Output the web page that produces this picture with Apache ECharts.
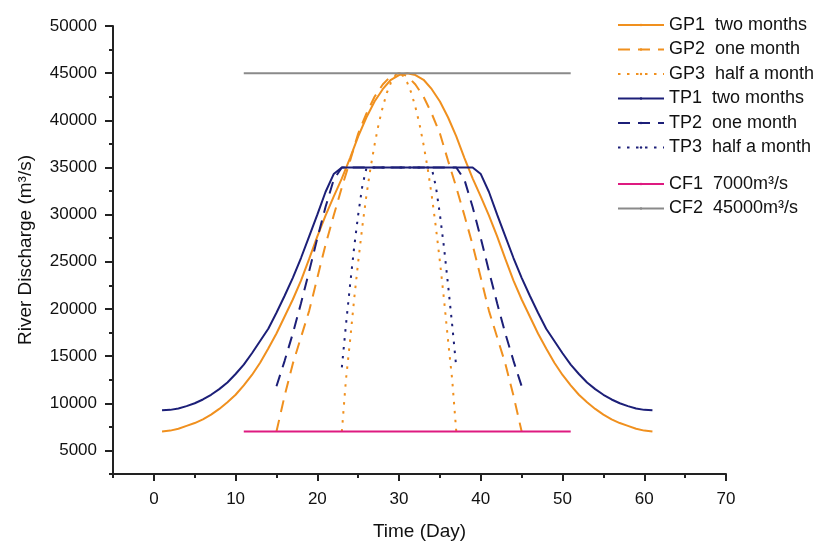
<!DOCTYPE html>
<html>
<head>
<meta charset="utf-8">
<script src="https://cdn.jsdelivr.net/npm/echarts@6/dist/echarts.min.js"></script>
<style>
html,body{margin:0;padding:0;background:#fff;}
#chart{width:831px;height:550px;}
</style>
</head>
<body>
<div id="chart"></div>
<script>
// ---- data ----
const days1 = [1,2,3,4,5,6,7,8,9,10,11,12,13,14,15,16,17,18,19,20,21,22,23,24,25,26,27,28,29,30,31,32,33,34,35,36,37,38,39,40,41,42,43,44,45,46,47,48,49,50,51,52,53,54,55,56,57,58,59,60,61];
const gp1 = [7000,7100,7300,7600,7900,8300,8800,9400,10100,10900,11900,13000,14300,15800,17400,19200,21000,23000,25300,27700,29900,31900,33850,36000,38300,40300,42000,43300,44300,44800,45000,
             44800,44300,43300,42000,40300,38300,36000,33850,31900,29900,27700,25300,23000,21000,19200,17400,15800,14300,13000,11900,10900,10100,9400,8800,8300,7900,7600,7300,7100,7000];
const tp1 = [9250,9300,9450,9700,10000,10400,10900,11500,12200,13100,14100,15300,16600,17900,19600,21400,23300,25400,27700,30000,32400,34300,
             35000,35000,35000,35000,35000,35000,35000,35000,35000,35000,35000,35000,35000,35000,35000,35000,35000,
             34300,32400,30000,27700,25400,23300,21400,19600,17900,16600,15300,14100,13100,12200,11500,10900,10400,10000,9700,9450,9300,9250];

const days2 = [15,16,17,18,19,20,21,22,23,24,25,26,27,28,29,30,31,32,33,34,35,36,37,38,39,40,41,42,43,44,45];
const gp2 = [7000,10800,14200,17000,19800,23300,26800,29900,32900,35700,38600,40700,42500,43800,44700,45000,44700,43800,42500,40700,38600,35700,32900,29900,26800,23300,19800,17000,14200,10800,7000];
const tp2 = [11800,14500,17400,20600,24000,27500,30800,33700,35000,35000,35000,35000,35000,35000,35000,35000,35000,35000,35000,35000,35000,35000,35000,33700,30800,27500,24000,20600,17400,14500,11800];

const days3 = [23,23.5,24,24.5,25,25.5,26,26.5,27,27.5,28,28.5,29,29.5,30,30.5,31,31.5,32,32.5,33,33.5,34,34.5,35,35.5,36,36.5,37];
const gp3 = [7000,12500,16600,21000,25000,28700,32000,34900,37400,39600,41400,42900,44000,44700,45000,44700,44000,42900,41400,39600,37400,34900,32000,28700,25000,21000,16600,12500,7000];
const tp3 = [13800,18300,22500,26500,30000,33000,34900,35000,35000,35000,35000,35000,35000,35000,35000,35000,35000,35000,35000,35000,35000,35000,34900,33000,30000,26500,22500,18300,13800];

const cfDays = [11,51];
const cf1 = [7000,7000];
const cf2 = [45000,45000];

const xTicks = [0,10,20,30,40,50,60,70];
const xMinorTicks = [-5,5,15,25,35,45,55,65];
const yTicks = [5000,10000,15000,20000,25000,30000,35000,40000,45000,50000];
const yMinorTicks = [2500,7500,12500,17500,22500,27500,32500,37500,42500,47500];

const names = ['GP1  two months','GP2  one month','GP3  half a month','TP1  two months','TP2  one month','TP3  half a month','CF1  7000m³/s','CF2  45000m³/s'];

// ---- chart ----
const ORANGE = '#F0901E', NAVY = '#1C1F78', MAGENTA = '#DE1A80', GREY = '#8a8a8a';
const FONT = '"Liberation Sans", Arial, sans-serif';
const AX = '#222';

function zip(xs, ys){ return xs.map((x,i)=>[x, ys[i]]); }
function line(name, xs, ys, color, type){
  return {
    name, type:'line', data: zip(xs, ys),
    symbol:'circle', symbolSize:3, showSymbol:false, smooth:false,
    lineStyle:{color, width:2, type},
    itemStyle:{color},
    emphasis:{disabled:true}, animation:false
  };
}
const DASH = [12,8], DOT = [2.5,6.5];
const plain = v => String(v);

const chart = echarts.init(document.getElementById('chart'), null, {renderer:'canvas'});
const legendText = {fontFamily:FONT, fontSize:18, color:'#111', lineHeight:20};
const legendCommon = {orient:'vertical', left:617, padding:0, itemWidth:46, itemHeight:3, itemGap:4.5, textStyle:legendText, selectedMode:false};
chart.setOption({
  animation:false,
  backgroundColor:'#fff',
  grid:{left:113, right:105, top:26, bottom:76, containLabel:false},
  legend:[
    Object.assign({data:names.slice(0,6), top:15}, legendCommon),
    Object.assign({data:names.slice(6), top:174}, legendCommon)
  ],
  xAxis:[
    {type:'value', min:-5, max:70, position:'bottom',
     name:'Time (Day)', nameLocation:'middle', nameGap:48,
     nameTextStyle:{fontFamily:FONT, fontSize:19, color:'#111'},
     axisLine:{show:true, onZero:false, lineStyle:{color:AX, width:2}},
     axisTick:{show:true, customValues:xTicks, length:7, lineStyle:{color:AX, width:2}},
     axisLabel:{show:true, customValues:xTicks, formatter:plain, margin:17, fontFamily:FONT, fontSize:17, color:'#111'},
     splitLine:{show:false}},
    {type:'value', min:-5, max:70, position:'bottom',
     axisLine:{show:false, onZero:false},
     axisTick:{show:true, customValues:xMinorTicks, length:4, lineStyle:{color:AX, width:2}},
     axisLabel:{show:false}, splitLine:{show:false}}
  ],
  yAxis:[
    {type:'value', min:2500, max:50000, position:'left',
     name:'River Discharge (m³/s)', nameLocation:'middle', nameGap:78, nameRotate:90,
     nameTextStyle:{fontFamily:FONT, fontSize:19, color:'#111'},
     axisLine:{show:true, onZero:false, lineStyle:{color:AX, width:2}},
     axisTick:{show:true, customValues:yTicks, length:8, lineStyle:{color:AX, width:2}},
     axisLabel:{show:true, customValues:yTicks, formatter:plain, margin:16, fontFamily:FONT, fontSize:17, color:'#111'},
     splitLine:{show:false}},
    {type:'value', min:2500, max:50000, position:'left',
     axisLine:{show:false, onZero:false},
     axisTick:{show:true, customValues:yMinorTicks, length:4, lineStyle:{color:AX, width:2}},
     axisLabel:{show:false}, splitLine:{show:false}}
  ],
  series:[
    line(names[0], days1, gp1, ORANGE, 'solid'),
    line(names[1], days2, gp2, ORANGE, DASH),
    line(names[2], days3, gp3, ORANGE, DOT),
    line(names[3], days1, tp1, NAVY, 'solid'),
    line(names[4], days2, tp2, NAVY, DASH),
    line(names[5], days3, tp3, NAVY, DOT),
    line(names[6], cfDays, cf1, MAGENTA, 'solid'),
    line(names[7], cfDays, cf2, GREY, 'solid')
  ]
});
</script>
</body>
</html>
